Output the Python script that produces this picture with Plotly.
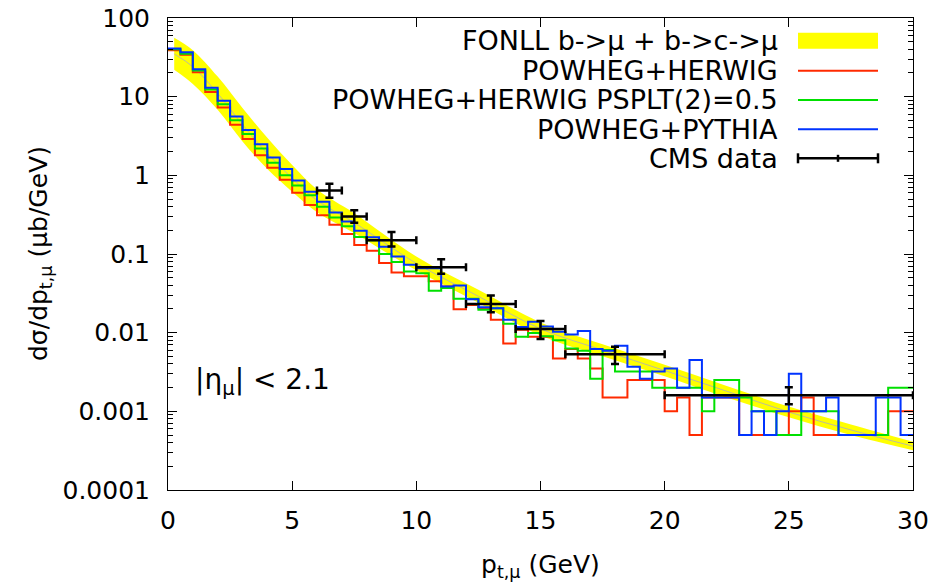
import plotly.graph_objects as go

# ---------------- data ----------------
bin_edges = [0.0, 0.5, 1.0, 1.5, 2.0, 2.5, 3.0, 3.5, 4.0, 4.5, 5.0, 5.5, 6.0, 6.5, 7.0, 7.5,
             8.0, 8.5, 9.0, 9.5, 10.0, 10.5, 11.0, 11.5, 12.0, 12.5, 13.0, 13.5, 14.0, 14.5,
             15.0, 15.5, 16.0, 16.5, 17.0, 17.5, 18.0, 18.5, 19.0, 19.5, 20.0, 20.5, 21.0,
             21.5, 22.0, 22.5, 23.0, 23.5, 24.0, 24.5, 25.0, 25.5, 26.0, 26.5, 27.0, 27.5,
             28.0, 28.5, 29.0, 29.5, 30.0]

herwig = [39, 34, 20.5, 11.5, 7.3, 4.4, 2.9, 1.8, 1.25, 0.88,
          0.6, 0.42, 0.31, 0.235, 0.18, 0.13, 0.11, 0.077, 0.058, 0.052,
          0.052, 0.045, 0.0386, 0.0199, 0.0225, 0.0205, 0.0146, 0.0073, 0.0109, 0.0089,
          0.0089, 0.0047, 0.0062, 0.0047, 0.0035, 0.0015, 0.0015, 0.0025, 0.0025, 0.0025,
          0.001, 0.0015, 0.0005, 0.0015, 0.0015, 0.0015, 0.0005, 0.0005, 0.0005, 0.0005,
          0.001, 0.0015, 0.0005, 0.0005, 0.0005, 0.0005, 0.0005, 0.0005, 0.001, 0.001]

herwig_psplt = [40, 35, 21.5, 12.3, 8.0, 5.0, 3.35, 2.2, 1.45, 1.0,
                0.74, 0.56, 0.40, 0.29, 0.225, 0.165, 0.15, 0.1, 0.079, 0.06,
                0.057, 0.034, 0.037, 0.027, 0.027, 0.0195, 0.0205, 0.013, 0.0089, 0.0099,
                0.009, 0.008, 0.0063, 0.0059, 0.0026, 0.006, 0.0032, 0.0032, 0.0032, 0.002,
                0.002, 0.002, 0.002, 0.001, 0.0025, 0.0025, 0.0015, 0.001, 0.001, 0.0005,
                0.0005, 0.001, 0.001, 0.001, 0.0005, 0.0005, 0.0005, 0.0005, 0.002, 0.002]

pythia = [41, 36.6, 22.3, 13, 8.9, 5.6, 3.78, 2.48, 1.68, 1.2,
          0.86, 0.62, 0.46, 0.336, 0.258, 0.197, 0.163, 0.124, 0.093, 0.073,
          0.066, 0.066, 0.0386, 0.0397, 0.0266, 0.0211, 0.0205, 0.0146, 0.0118, 0.0138,
          0.012, 0.0103, 0.0095, 0.0105, 0.0062, 0.0059, 0.0068, 0.0037, 0.0026, 0.0032,
          0.0035, 0.002, 0.0045, 0.0015, 0.0015, 0.0015, 0.0005, 0.001, 0.0005, 0.001,
          0.003, 0.001, 0.001, 0.0015, 0.0005, 0.0005, 0.0005, 0.0015, 0.0015, 0.0005]

fonll_pt = [0.25, 1, 2, 3, 4, 5, 6, 7.5, 10, 12.5, 15, 17.5, 20, 22.5, 25, 27.5, 30]
fonll_up = [56, 39, 18, 7.2, 3.0, 1.35, 0.66, 0.33, 0.093, 0.035, 0.0135, 0.0071, 0.0039,
            0.0021, 0.00115, 0.00068, 0.00041]
fonll_lo = [22, 14.5, 6.8, 2.7, 1.2, 0.62, 0.34, 0.185, 0.062, 0.024, 0.0092, 0.005, 0.0028,
            0.0015, 0.00084, 0.0005, 0.00032]
fonll_c = [35, 24, 11, 4.4, 1.9, 0.92, 0.48, 0.25, 0.076, 0.029, 0.0112, 0.006, 0.0033,
           0.0018, 0.00098, 0.00058, 0.00036]

cms_pt = [6.5, 7.5, 9, 11, 13, 15, 18, 25]
cms_pt_err = [0.5, 0.5, 1, 1, 1, 1, 2, 5]
cms_val = [0.64, 0.30, 0.15, 0.068, 0.0232, 0.0111, 0.0053, 0.0016]
cms_err_up = [0.14, 0.06, 0.04, 0.0175, 0.0064, 0.003, 0.0013, 0.00043]
cms_err_dn = [0.12, 0.05, 0.025, 0.012, 0.005, 0.0028, 0.0013, 0.00037]

y_tick_vals = [1e-4, 1e-3, 1e-2, 1e-1, 1, 10, 100]
y_tick_text = ["0.0001", "0.001", "0.01", "0.1", "1", "10", "100"]
x_tick_vals = [0, 5, 10, 15, 20, 25, 30]

legend_labels = ["FONLL b->μ + b->c->μ", "POWHEG+HERWIG",
                 "POWHEG+HERWIG PSPLT(2)=0.5", "POWHEG+PYTHIA", "CMS data"]

# ---------------- styles ----------------
FONT = "DejaVu Sans"
C_RED = "#ff2a00"
C_GREEN = "#00e000"
C_BLUE = "#0033ff"
C_YELLOW = "#ffff00"

fig = go.Figure()

# FONLL band
fig.add_trace(go.Scatter(x=fonll_pt, y=fonll_lo, mode="lines", line=dict(width=0, color=C_YELLOW, shape="spline"),
                         showlegend=False, hoverinfo="skip"))
fig.add_trace(go.Scatter(x=fonll_pt, y=fonll_up, mode="lines", line=dict(width=0, color=C_YELLOW, shape="spline"),
                         fill="tonexty", fillcolor=C_YELLOW, showlegend=False, hoverinfo="skip"))
fig.add_trace(go.Scatter(x=fonll_pt, y=fonll_c, mode="lines", line=dict(width=1, color="#bdbd9a", shape="spline"),
                         showlegend=False, hoverinfo="skip"))


def hist_trace(vals, color):
    return go.Scatter(x=bin_edges, y=vals + [vals[-1]], mode="lines",
                      line=dict(color=color, width=2, shape="hv"), showlegend=False)


fig.add_trace(hist_trace(herwig, C_RED))
fig.add_trace(hist_trace(herwig_psplt, C_GREEN))
fig.add_trace(hist_trace(pythia, C_BLUE))

fig.add_trace(go.Scatter(
    x=cms_pt, y=cms_val, mode="markers", marker=dict(size=1, color="black"),
    error_x=dict(type="data", array=cms_pt_err, color="black", thickness=2.5, width=4),
    error_y=dict(type="data", array=cms_err_up, arrayminus=cms_err_dn, color="black", thickness=2.5, width=4),
    showlegend=False))

# ---------------- custom legend (gnuplot style: text left, sample right) ----------------
W, H = 933, 583
L, R, T, B = 168, 20, 18, 93
pw, ph = W - L - R, H - T - B


def px(xp):
    return (xp - L) / pw


def py(yp):
    return (H - B - yp) / ph


rows = [40.7, 70.7, 100.0, 129.3, 158.3]
shapes = []
annotations = []
for lab, ry in zip(legend_labels, rows):
    annotations.append(dict(x=px(780), y=py(ry), xref="paper", yref="paper", text=lab,
                            showarrow=False, xanchor="right", yanchor="middle",
                            font=dict(family=FONT, size=27, color="black")))
x0s, x1s = px(798), px(878)
shapes.append(dict(type="rect", xref="paper", yref="paper", x0=x0s, x1=x1s,
                   y0=py(rows[0] + 8), y1=py(rows[0] - 8), fillcolor=C_YELLOW, line=dict(width=0)))
for ry, col in zip(rows[1:4], [C_RED, C_GREEN, C_BLUE]):
    shapes.append(dict(type="line", xref="paper", yref="paper", x0=x0s, x1=x1s, y0=py(ry), y1=py(ry),
                       line=dict(color=col, width=2)))
ry = rows[4]
shapes.append(dict(type="line", xref="paper", yref="paper", x0=x0s, x1=x1s, y0=py(ry), y1=py(ry),
                   line=dict(color="black", width=2.5)))
for xx, hh in [(798, 5), (878, 5), (838, 3.5)]:
    shapes.append(dict(type="line", xref="paper", yref="paper", x0=px(xx), x1=px(xx),
                       y0=py(ry - hh), y1=py(ry + hh), line=dict(color="black", width=2.5)))

annotations.append(dict(x=px(193), y=py(381), xref="paper", yref="paper",
                        text="|η<sub>μ</sub>| &lt; 2.1", showarrow=False, xanchor="left", yanchor="middle",
                        font=dict(family=FONT, size=28, color="black")))

# axis titles as annotations for exact placement
annotations.append(dict(x=px(540), y=py(566), xref="paper", yref="paper",
                        text="p<sub>t,μ</sub> (GeV)", showarrow=False, xanchor="center", yanchor="middle",
                        font=dict(family=FONT, size=25, color="black")))
annotations.append(dict(x=px(40), y=py(254), xref="paper", yref="paper", textangle=-90,
                        text="dσ/dp<sub>t,μ</sub> (μb/GeV)", showarrow=False, xanchor="center", yanchor="middle",
                        font=dict(family=FONT, size=25, color="black")))

minor_vals = [m * 10 ** k for k in range(-4, 2) for m in range(2, 10)]

fig.update_layout(
    width=W, height=H,
    margin=dict(l=L, r=R, t=T, b=B, autoexpand=False),
    paper_bgcolor="white", plot_bgcolor="white",
    font=dict(family=FONT, size=25, color="black"),
    shapes=shapes, annotations=annotations,
    xaxis=dict(range=[0, 30], tickvals=x_tick_vals, ticks="inside", ticklen=9, tickwidth=1,
               tickcolor="black", showline=True, linecolor="black", linewidth=1, mirror="allticks",
               showgrid=False, zeroline=False, ticklabelstandoff=8, automargin=False,
               tickfont=dict(size=25)),
    yaxis=dict(type="log", range=[-4, 2], tickvals=y_tick_vals, ticktext=y_tick_text,
               ticks="inside", ticklen=9, tickwidth=1, tickcolor="black",
               showline=True, linecolor="black", linewidth=1, mirror="allticks",
               showgrid=False, zeroline=False, ticklabelstandoff=12, automargin=False,
               tickfont=dict(size=25),
               minor=dict(tickvals=minor_vals, ticks="inside", ticklen=5, tickcolor="black", showgrid=False)),
)

fig.write_html("out.html")
